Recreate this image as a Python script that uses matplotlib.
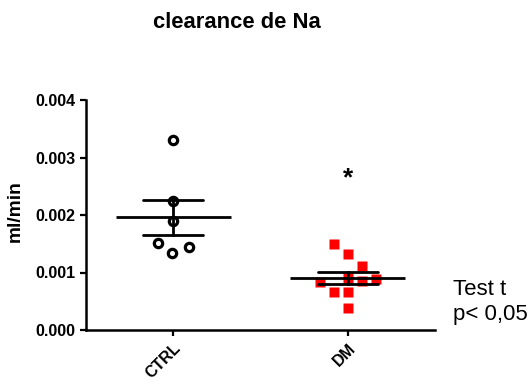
import numpy as np
import matplotlib
matplotlib.use("Agg")
import matplotlib.pyplot as plt

plt.rcParams['font.family'] = ['Liberation Sans', 'DejaVu Sans']

# Sodium clearance (ml/min) per animal
groups = ["CTRL", "DM"]
ctrl_values = [0.00330, 0.00225, 0.00189, 0.00152, 0.00134, 0.00145]
dm_values = [0.00150, 0.001325, 0.00111, 0.00090, 0.00086, 0.00088,
             0.00084, 0.00066, 0.000655, 0.00039]
yticks = [0.000, 0.001, 0.002, 0.003, 0.004]
star_y = 0.00264

# horizontal scatter of overlapping points (in category units)
ctrl_jitter = [0.0, 0.0, 0.0, -0.085, -0.01, 0.088]
dm_jitter = [-0.08, 0.0, 0.08, 0.0, 0.08, 0.16, -0.16, -0.08, 0.0, 0.0]

fig = plt.figure(figsize=(5.29, 3.90), dpi=100)
ax = fig.add_axes([86/529, 1-330/390, (435-86)/529, (330-100)/390])

def mean_sem(vals):
    v = np.asarray(vals)
    return v.mean(), v.std(ddof=1) / np.sqrt(len(v))

ax.plot(1 + np.array(ctrl_jitter), ctrl_values, 'o', ms=6, mfc='white',
        mec='black', mew=2.3, zorder=3, clip_on=False)
ax.plot(2 + np.array(dm_jitter), dm_values, 's', ms=7.2, mfc='#ff0000',
        mec='none', zorder=3, clip_on=False)

for xpos, vals in zip([1, 2], [ctrl_values, dm_values]):
    m, s = mean_sem(vals)
    ax.plot([xpos - 0.33, xpos + 0.33], [m, m], color='black', lw=2.0,
            zorder=4, solid_capstyle='butt')
    for yy in (m - s, m + s):
        ax.plot([xpos - 0.172, xpos + 0.172], [yy, yy], color='black',
                lw=2.0, zorder=4, solid_capstyle='round')
    ax.plot([xpos, xpos], [m - s, m + s], color='black', lw=2.0, zorder=4)

ax.text(2, star_y, '*', ha='center', va='center', fontsize=19,
        fontweight='bold')

ax.set_xlim(0.5, 2.5)
ax.set_ylim(0, 0.004)
ax.set_xticks([1, 2])
ax.set_xticklabels(groups, rotation=45, ha='right', va='top',
                   rotation_mode='anchor', fontsize=11.5, fontweight='bold')
ax.set_yticks(yticks)
ax.set_yticklabels([f"{t:.3f}" for t in yticks], fontsize=11.5,
                   fontweight='bold')
ax.tick_params(axis='both', direction='out', length=4.5, width=1.6,
               pad=3)
for side in ('top', 'right'):
    ax.spines[side].set_visible(False)
for side in ('left', 'bottom'):
    ax.spines[side].set_linewidth(1.8)

fig.text(15/529, 1-211/390, 'ml/min', rotation=90, ha='center',
         va='center', fontsize=13.8, fontweight='bold')
fig.text(236.5/529, 1-28/390, 'clearance de Na', ha='center',
         va='baseline', fontsize=15.8, fontweight='bold')
fig.text(453/529, 1-295/390, 'Test t', ha='left', va='baseline',
         fontsize=16)
fig.text(453/529, 1-320/390, 'p< 0,05', ha='left', va='baseline',
         fontsize=16)

fig.savefig('out.png', dpi=100)
